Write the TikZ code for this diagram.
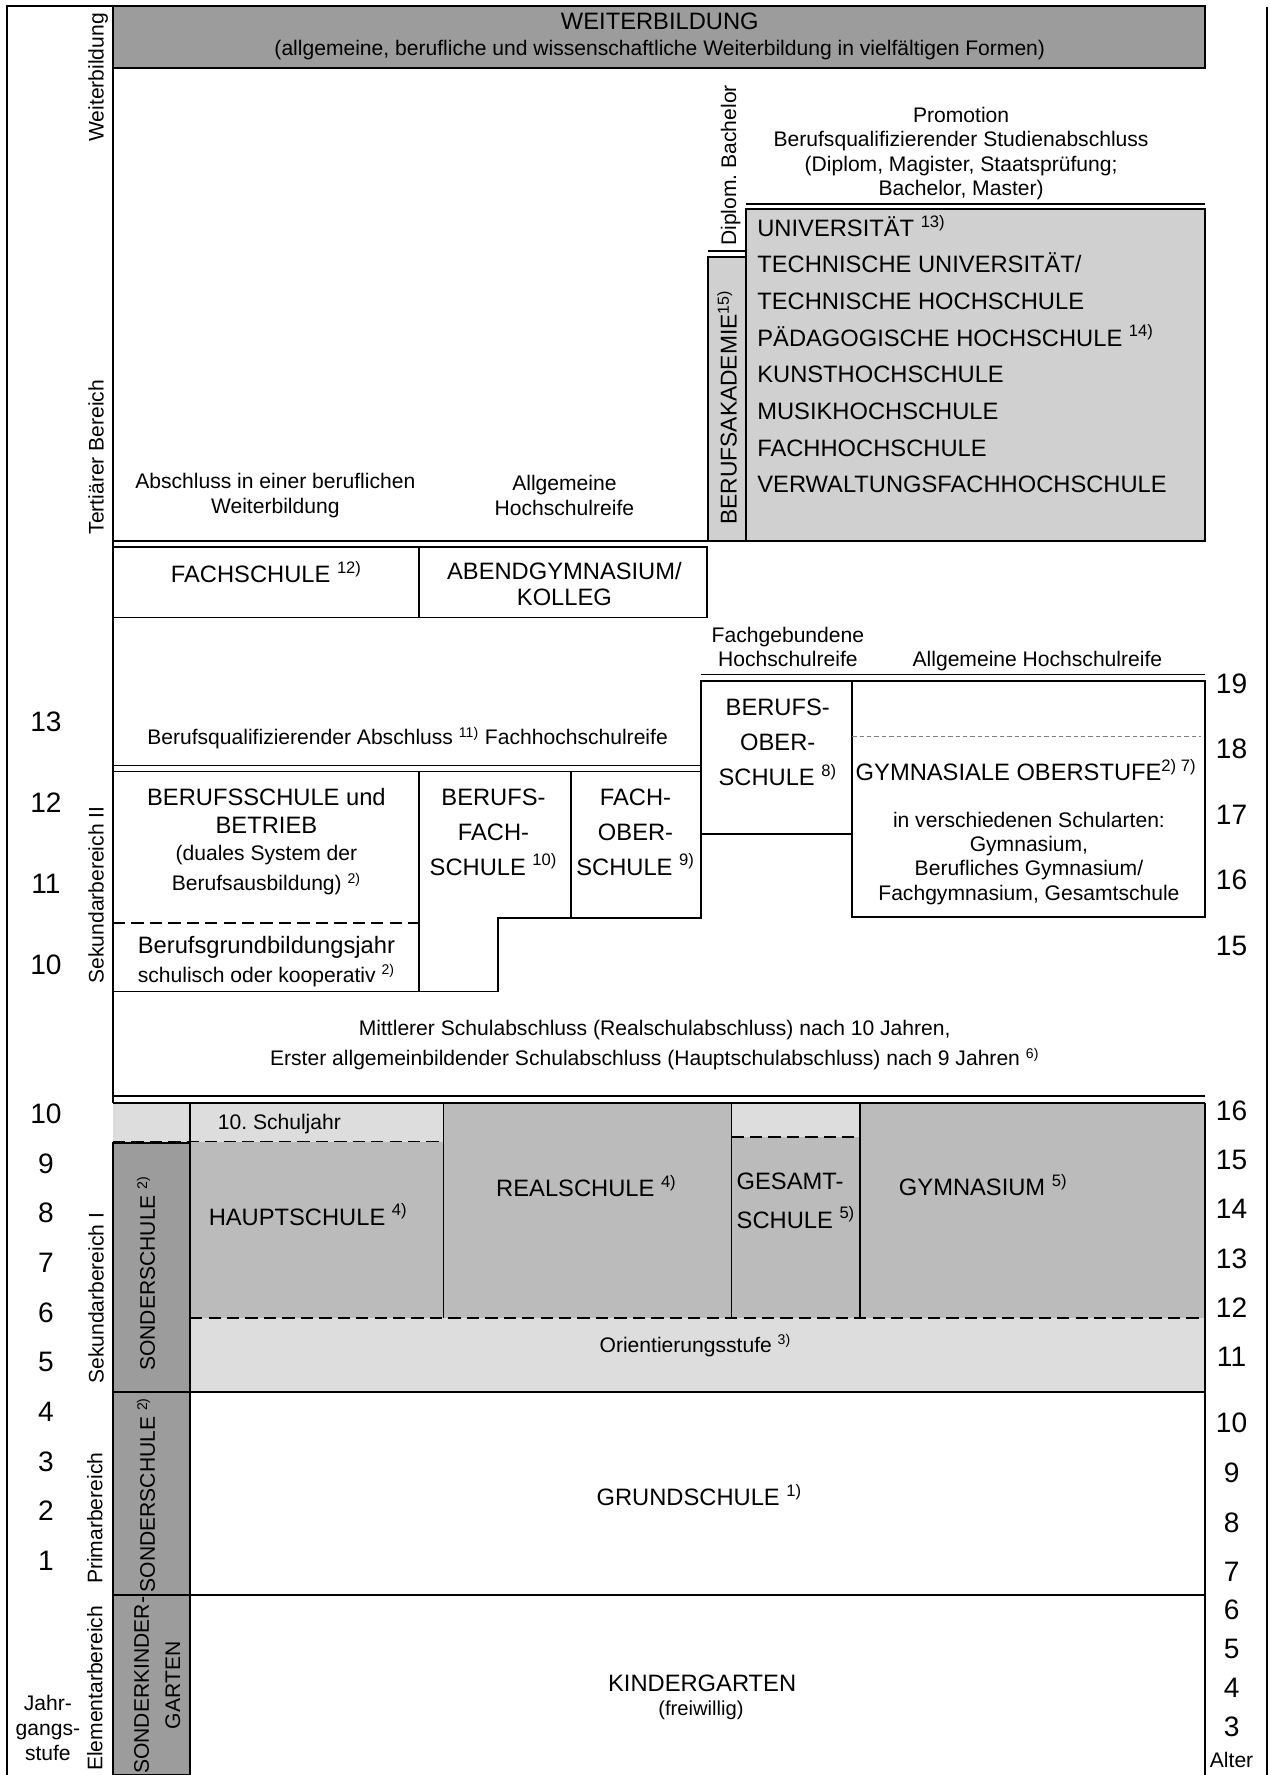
\documentclass[tikz,border=0pt]{standalone}
\usepackage{fontspec}
\setmainfont{Liberation Sans}
\usetikzlibrary{positioning}
\definecolor{wbgray}{HTML}{9C9C9C}
\definecolor{unigray}{HTML}{D0D0D0}
\definecolor{sekgray}{HTML}{BBBBBB}
\definecolor{bandgray}{HTML}{DDDDDD}
\definecolor{sondergray}{HTML}{9C9C9C}
\newcommand{\fnote}[1]{\textsuperscript{#1}}

\begin{document}
\begin{tikzpicture}[x=0.022578cm, y=-0.022578cm,
  rule/.style={line width=1pt},
  thinrule/.style={line width=0.8pt},
  splitline/.style={line width=1pt, dash pattern=on 7pt off 3.5pt},
  faintsplit/.style={line width=0.6pt, gray, dash pattern=on 2.5pt off 1.7pt},
  capline/.style={font=\fontsize{13.5}{16}\selectfont, inner sep=0pt, text height=9.7pt, text depth=0pt},
  capblock/.style={font=\fontsize{13.5}{#1}\selectfont, inner sep=0pt, align=center},
  txt/.style={font=\fontsize{12}{14}\selectfont, inner sep=0pt, text height=8.6pt, text depth=0pt},
  txtblock/.style={font=\fontsize{12}{#1}\selectfont, inner sep=0pt, align=center},
  num/.style={font=\fontsize{16}{18}\selectfont, inner sep=0pt, text height=11.5pt, text depth=0pt},
  area/.style={font=\fontsize{12}{14}\selectfont, rotate=90, inner sep=0pt, text height=8.6pt, text depth=0pt},
  sonder/.style={font=\fontsize{12}{#1}\selectfont, rotate=90, inner sep=0pt, align=center}]
\useasboundingbox (0,0) rectangle (1125,1572.4);

% Frame
\draw[rule] (100,5) -- (6,5) -- (6,1572.4);
\draw[rule] (1122.5,6) -- (1122.5,1572.4);
\draw[rule] (100,60.2) -- (100,977);

% Weiterbildung
\draw[rule, fill=wbgray] (100,5) rectangle (1067.5,60.2);
\node[capline] (wb) at (584.5,18.6) {WEITERBILDUNG};
\node[txt] (wbsub) at (584.5,42.4)
  {(allgemeine, berufliche und wissenschaftliche Weiterbildung in vielfältigen Formen)};

% Hochschulen
\draw[thinrule] (660.6,180.7) -- (1067.5,180.7);
\draw[rule, fill=unigray] (660.6,185.4) rectangle (1067.5,479);
\draw[thinrule] (627.4,222.3) -- (660.6,222.3);
\draw[rule, fill=unigray] (627.4,227.4) rectangle (660.6,479);
\node[txtblock=13.9pt] (promo) at (851.4,136)
  {Promotion\\Berufsqualifizierender Studienabschluss\\(Diplom, Magister, Staatsprüfung;\\Bachelor, Master)};
\node[area] (diplom) at (645.5,146.5) {Diplom.\ Bachelor};
\node[capline, rotate=90, font=\fontsize{13}{15}\selectfont] (ba) at (645,361) {BERUFSAKADEMIE\fnote{15)}};
\foreach \t [count=\i from 0] in {UNIVERSITÄT~\fnote{13)}, TECHNISCHE UNIVERSITÄT/,
    TECHNISCHE HOCHSCHULE, PÄDAGOGISCHE HOCHSCHULE~\fnote{14)}, KUNSTHOCHSCHULE,
    MUSIKHOCHSCHULE, FACHHOCHSCHULE, VERWALTUNGSFACHHOCHSCHULE}
  \node[capline, anchor=west] (uni\i) at (670.6,{201.7+32.45*\i}) {\t};
\node[txtblock=14.3pt] (abschl) at (243.9,439) {Abschluss in einer beruflichen\\Weiterbildung};
\node[txtblock=14.3pt] (allghr) at (500,439) {Allgemeine\\Hochschulreife};

% Fachschule, Kolleg
\draw[rule] (100,479) -- (627.4,479);
\draw[rule] (100,484.3) rectangle (371.5,547);
\draw[rule] (371.5,484.3) rectangle (626,547);
\node[capline] (fs) at (236,508.5) {FACHSCHULE~\fnote{12)}};
\node[capblock=14.7pt] (abendgym) at (500,517.5) {ABENDGYMNASIUM/\\KOLLEG};

% Sekundarbereich II
\node[txtblock=13.8pt] (fachhr) at (698,573.2) {Fachgebundene\\Hochschulreife};
\node[txt] (allghr2) at (919,584) {Allgemeine Hochschulreife};
\draw[thinrule] (621.3,597.5) -- (1067.5,597.5);
\draw[rule] (621.3,603) rectangle (755,739);
\draw[rule] (755,603) rectangle (1067.5,812);
\draw[faintsplit] (755,652.5) -- (1064,652.5);
\node[capblock=19.9pt] (bos) at (689,657.5) {BERUFS-\\OBER-\\SCHULE~\fnote{8)}};
\node[capline] (go) at (909,683.6) {GYMNASIALE OBERSTUFE\fnote{2) 7)}};
\node[txtblock=13.9pt] (gosub) at (911.5,760.3)
  {in verschiedenen Schularten:\\Gymnasium,\\Berufliches Gymnasium/\\Fachgymnasium, Gesamtschule};
\node[txt] (bqa) at (361,653) {Berufsqualifizierender Abschluss \fnote{11)} Fachhochschulreife};
\draw[thinrule] (100,678.2) -- (621.3,678.2);
\draw[rule] (100,683.5) rectangle (371.3,878.4);
\draw[splitline] (100,817.3) -- (371.3,817.3);
\draw[rule] (371.3,683.5) -- (505.5,683.5) -- (505.5,813.5) -- (441.2,813.5)
  -- (441.2,878.4) -- (371.3,878.4) -- cycle;
\draw[rule] (505.5,683.5) rectangle (621.3,813.5);
\node[capblock=15.6pt] (bsb) at (236,718.5) {BERUFSSCHULE und\\BETRIEB};
\node[txtblock=17pt] (dual) at (236,771) {(duales System der\\Berufsausbildung)~\fnote{2)}};
\node[capline] (bgj) at (236,837) {Berufsgrundbildungsjahr};
\node[txt] (koop) at (236,863.7) {schulisch oder kooperativ~\fnote{2)}};
\node[capblock=19.9pt] (bfs) at (437.2,737) {BERUFS-\\FACH-\\SCHULE~\fnote{10)}};
\node[capblock=19.9pt] (fos) at (563,737) {FACH-\\OBER-\\SCHULE~\fnote{9)}};
\node[txtblock=17pt] (abschl10) at (580,926)
  {Mittlerer Schulabschluss (Realschulabschluss) nach 10 Jahren,\\Erster allgemeinbildender Schulabschluss (Hauptschulabschluss) nach 9 Jahren~\fnote{6)}};
\draw[thinrule] (100,970.9) -- (1067.5,970.9);

% Sekundarbereich I
\fill[bandgray] (100,977) rectangle (1067.5,1232.8);
\fill[sekgray] (168.4,1011.3) rectangle (392.9,1167.5);
\fill[sekgray] (392.9,977) rectangle (648,1167.5);
\fill[sekgray] (648,1006.9) rectangle (761.6,1167.5);
\fill[sekgray] (761.6,977) rectangle (1067.5,1167.5);
\draw[rule] (100,977) -- (1067.5,977);
\foreach \x in {168.4,392.9,648,761.6}
  \draw[rule] (\x,977) -- (\x,1167.5);
\draw[splitline] (100,1011.3) -- (392.9,1011.3);
\draw[splitline] (648,1006.9) -- (761.6,1006.9);
\draw[splitline] (168.4,1167.5) -- (1067.5,1167.5);
\node[txt] (sj10) at (247.5,993.6) {10.\ Schuljahr};
\node[capline] (haupt) at (273,1077.7) {HAUPTSCHULE~\fnote{4)}};
\node[capline] (real) at (519.5,1052.6) {REALSCHULE~\fnote{4)}};
\node[capblock=21.8pt, align=left, anchor=west] (gesamt) at (652.3,1063.7) {GESAMT-\\SCHULE~\fnote{5)}};
\node[capline] (gym) at (871,1051.2) {GYMNASIUM~\fnote{5)}};
\node[txt] (orient) at (616,1191.4) {Orientierungsstufe~\fnote{3)}};

% Sonderschulen
\draw[rule, fill=sondergray] (100,1012.6) rectangle (168.4,1572.4);
\draw[rule] (100,1232.8) -- (1067.5,1232.8);
\draw[rule] (100,1412.9) -- (1067.5,1412.9);
\draw[rule] (1067.5,977) -- (1067.5,1572.4);
\node[sonder=14pt, text height=8.6pt, text depth=0pt] (sonder1) at (130.5,1128) {SONDERSCHULE~\fnote{2)}};
\node[sonder=14pt, text height=8.6pt, text depth=0pt] (sonder2) at (130.5,1324.3) {SONDERSCHULE~\fnote{2)}};
\node[sonder=17.9pt] (sonderkg) at (139.3,1493) {SONDERKINDER-\\GARTEN};

% Primarbereich, Elementarbereich
\node[capline] (grund) at (619.5,1326) {GRUNDSCHULE~\fnote{1)}};
\node[capline] (kg) at (622,1491) {KINDERGARTEN};
\node[txt, font=\fontsize{11.5}{13}\selectfont] (freiw) at (621,1513) {(freiwillig)};

% Bereiche
\node[area] (lwb) at (85,68.6) {Weiterbildung};
\node[area] (ltert) at (85,405) {Tertiärer Bereich};
\node[area] (lsek2) at (85,792.8) {Sekundarbereich II};
\node[area] (lsek1) at (85,1150) {Sekundarbereich I};
\node[area] (lprim) at (84,1345) {Primarbereich};
\node[area] (lelem) at (84,1495.6) {Elementarbereich};

% Jahrgangsstufen
\foreach \n in {10,...,13}
  \node[num] (jgII\n) at (40.7,{639.3+(13-\n)*71.8}) {\n};
\foreach \n in {1,...,10}
  \node[num] (jgI\n) at (40.7,{986.2+(10-\n)*44}) {\n};
\node[txtblock=14.2pt] (jgs) at (42.4,1531) {Jahr-\\gangs-\\stufe};

% Alter
\foreach \n in {15,...,19}
  \node[num] (alterII\n) at (1091,{605.3+(19-\n)*58}) {\n};
\foreach \n in {11,...,16}
  \node[num] (alterI\n) at (1091,{983.3+(16-\n)*43.7}) {\n};
\foreach \n in {7,...,10}
  \node[num] (alterP\n) at (1091,{1260.2+(10-\n)*44}) {\n};
\foreach \n in {3,...,6}
  \node[num] (alterE\n) at (1091,{1426+(6-\n)*34.5}) {\n};
\node[txt] (alter) at (1091,1559) {Alter};
\end{tikzpicture}
\end{document}
